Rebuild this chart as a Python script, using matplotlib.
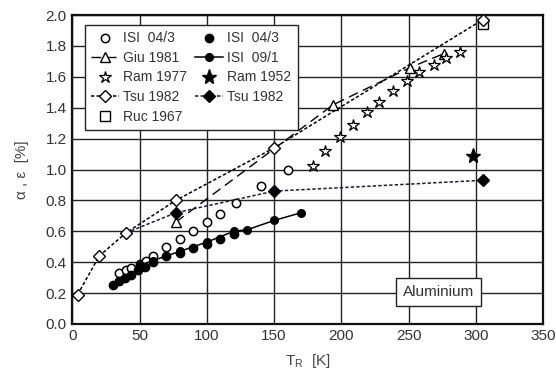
#!/usr/bin/env python3
"""Aluminium: alpha, epsilon [%] vs T_R [K], several data sources."""
import matplotlib
matplotlib.use('Agg')
import matplotlib.pyplot as plt

plt.rcParams['font.family'] = ['Liberation Sans', 'DejaVu Sans']

# ISI 04/3, open circles
isi_open_t = [35, 40, 44, 50, 55, 60, 70, 80, 90, 100, 110, 122, 140, 160]
isi_open_v = [0.33, 0.35, 0.36, 0.39, 0.41, 0.44, 0.50, 0.55, 0.60, 0.66, 0.71, 0.78, 0.89, 1.00]

# ISI 04/3, filled circles
isi_fill_t = [30, 35, 39, 44, 49, 54, 60, 70, 80, 90, 100, 110, 120]
isi_fill_v = [0.25, 0.28, 0.30, 0.32, 0.35, 0.37, 0.40, 0.44, 0.46, 0.49, 0.52, 0.55, 0.58]

# ISI 09/1, filled circles + solid line
isi09_t = [50, 60, 80, 100, 120, 130, 150, 170]
isi09_v = [0.38, 0.41, 0.47, 0.53, 0.60, 0.61, 0.67, 0.72]

# Giu 1981
giu_t = [77, 194, 251, 276]
giu_v = [0.66, 1.42, 1.66, 1.75]

# Ram 1977
ram77_t = [179, 188, 199, 209, 219, 228, 238, 249, 258, 269, 278, 288]
ram77_v = [1.02, 1.12, 1.21, 1.29, 1.37, 1.44, 1.51, 1.57, 1.63, 1.68, 1.72, 1.76]

# Ram 1952
ram52_t = [298]
ram52_v = [1.09]

# Tsu 1982, open diamonds
tsu_open_t = [4, 20, 40, 77, 150, 305]
tsu_open_v = [0.19, 0.44, 0.59, 0.80, 1.14, 1.97]

# Tsu 1982, filled diamonds (line continues from the shared low-T points)
tsu_fill_t = [40, 77, 150, 305]
tsu_fill_v = [0.59, 0.72, 0.86, 0.93]

# Ruc 1967
ruc_t = [305]
ruc_v = [1.94]

fig = plt.figure(figsize=(5.56, 3.87), dpi=100)
ax = fig.add_axes([0.130, 0.163, 0.847, 0.798])

k = 'black'
short = (2.2, 1.4)
ax.plot(isi_open_t, isi_open_v, 'o', ms=6, mfc='white', mec=k, mew=1.1, label='ISI  04/3', zorder=4)
ax.plot(giu_t, giu_v, '--', color=k, lw=1.0, dashes=(7, 4), marker='^', ms=7.5,
        mfc='white', mec=k, mew=1.0, label='Giu 1981', zorder=3)
ax.plot(ram77_t, ram77_v, '*', ms=9, mfc='white', mec=k, mew=0.9, label='Ram 1977', zorder=4)
ax.plot(tsu_open_t, tsu_open_v, '--', dashes=short, color=k, lw=1.1, marker='D', ms=6.5,
        mfc='white', mec=k, mew=1.0, label='Tsu 1982', zorder=5)
ax.plot(ruc_t, ruc_v, 's', ms=6.5, mfc='white', mec=k, mew=1.0, label='Ruc 1967', zorder=4)
ax.plot(isi_fill_t, isi_fill_v, 'o', ms=6, color=k, label='ISI  04/3', zorder=4)
ax.plot(isi09_t, isi09_v, '-', color=k, lw=1.1, marker='o', ms=5.5, label='ISI  09/1', zorder=4)
ax.plot(ram52_t, ram52_v, '*', ms=11, color=k, label='Ram 1952', zorder=4)
ax.plot(tsu_fill_t, tsu_fill_v, '--', dashes=short, color='#1a1a40', lw=1.1, marker='D', ms=6.5,
        mfc=k, mec=k, markevery=[1, 2, 3], label='Tsu 1982', zorder=4)

ax.set_xlim(0, 350)
ax.set_ylim(0, 2.0)
ax.set_xticks(range(0, 351, 50))
ax.set_yticks([i * 0.2 for i in range(11)])
ax.set_yticklabels([f'{i * 0.2:.1f}' for i in range(11)])
ax.grid(True, color='#222222', lw=1.0)
ax.set_axisbelow(True)
ax.tick_params(length=0, labelsize=11, labelcolor='#333333', pad=4)
for s in ax.spines.values():
    s.set_linewidth(1.6)
    s.set_color('#111111')

ax.set_xlabel('T$_{\\mathregular{R}}$  [K]', fontsize=11, color='#444444', labelpad=6)
ax.set_ylabel('α , ε  [%]', fontsize=11, color='#444444', labelpad=12)

leg = ax.legend(ncol=2, loc='upper left', bbox_to_anchor=(0.012, 0.99), fontsize=10,
                frameon=True, fancybox=False, edgecolor='#222222', framealpha=1,
                handlelength=2.0, handletextpad=0.3, columnspacing=0.6,
                labelspacing=0.4, borderpad=0.45)
leg.get_frame().set_linewidth(1.0)
for t in leg.get_texts():
    t.set_color('#333333')

ax.text(272, 0.207, 'Aluminium', fontsize=11, ha='center', va='center', color='#333333',
        bbox=dict(boxstyle='square,pad=0.45', fc='white', ec='#222222', lw=1.0), zorder=6)

fig.savefig('out.png', dpi=100)
